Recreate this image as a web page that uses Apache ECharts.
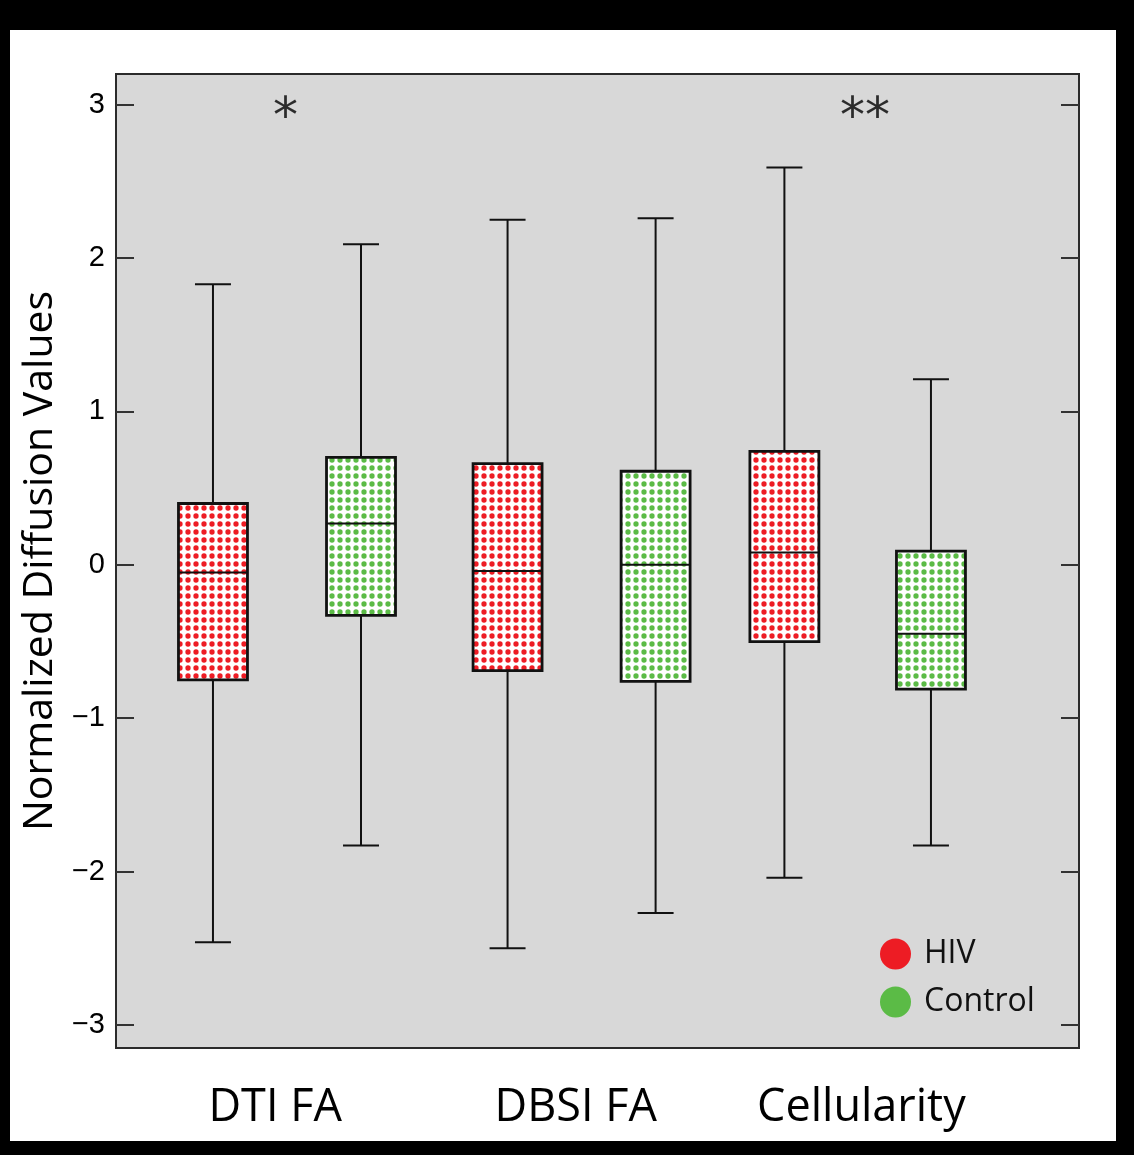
<!DOCTYPE html>
<html><head><meta charset="utf-8">
<script src="https://cdn.jsdelivr.net/npm/echarts@6/dist/echarts.min.js"></script>
<style>
html,body{margin:0;padding:0;background:#000;width:1134px;height:1155px;overflow:hidden}
#bg{position:absolute;left:10px;top:30px;width:1106px;height:1111px;background:#fff}
#chart{position:absolute;left:0;top:0;width:1134px;height:1155px}
</style></head><body><div id="bg"></div><div id="chart"></div>
<script>
// ---- data ----
const categories = ['DTI FA', 'DBSI FA', 'Cellularity'];
const categoryLabelX = [1.42, 3.45, 5.38];
const hivX = [1, 2.99, 4.86];
const controlX = [2, 3.99, 5.85];
// [min, Q1, median, Q3, max]
const hivStats = [
  [-2.46, -0.75, -0.05, 0.40, 1.83],
  [-2.50, -0.69, -0.04, 0.66, 2.25],
  [-2.04, -0.50, 0.08, 0.74, 2.59]
];
const controlStats = [
  [-1.83, -0.33, 0.27, 0.70, 2.09],
  [-2.27, -0.76, 0.00, 0.61, 2.26],
  [-1.83, -0.81, -0.45, 0.09, 1.21]
];
const yTicks = [-3, -2, -1, 0, 1, 2, 3];
const annotations = [[1.49, 3, '*'], [5.405, 3, '**']];
const seriesNames = ['HIV', 'Control'];

// ---- styles ----
const HIV_COLOR = '#ed1c24';
const CTRL_COLOR = '#5bbb46';
const BOX_W = 0.466;
const CAP_W = 0.243;

function makePattern(color) {
  const c = document.createElement('canvas');
  c.width = 8; c.height = 8;
  const g = c.getContext('2d');
  g.fillStyle = '#fff'; g.fillRect(0, 0, 8, 8);
  g.fillStyle = color;
  g.beginPath(); g.arc(4, 4, 2.65, 0, Math.PI * 2); g.fill();
  return c;
}

function boxRenderer(pattern) {
  return function (params, api) {
    const x = api.value(0);
    const p = i => api.coord([x, api.value(i)]);
    const cx = p(1)[0];
    const yMin = p(1)[1], yQ1 = p(2)[1], yMed = p(3)[1], yQ3 = p(4)[1], yMax = p(5)[1];
    const bw = api.size([BOX_W, 0])[0];
    const cw = api.size([CAP_W, 0])[0];
    const ls = { stroke: '#111', lineWidth: 2 };
    return {
      type: 'group',
      children: [
        { type: 'line', shape: { x1: cx, y1: yMax, x2: cx, y2: yQ3 }, style: ls },
        { type: 'line', shape: { x1: cx, y1: yQ1, x2: cx, y2: yMin }, style: ls },
        { type: 'line', shape: { x1: cx - cw / 2, y1: yMax, x2: cx + cw / 2, y2: yMax }, style: ls },
        { type: 'line', shape: { x1: cx - cw / 2, y1: yMin, x2: cx + cw / 2, y2: yMin }, style: ls },
        { type: 'rect', shape: { x: cx - bw / 2, y: yQ3, width: bw, height: yQ1 - yQ3 },
          style: { fill: { image: pattern, repeat: 'repeat' }, stroke: '#111', lineWidth: 2.8 } },
        { type: 'line', shape: { x1: cx - bw / 2, y1: yMed, x2: cx + bw / 2, y2: yMed }, style: ls }
      ]
    };
  };
}

const hivData = hivStats.map((s, i) => [hivX[i]].concat(s));
const ctrlData = controlStats.map((s, i) => [controlX[i]].concat(s));

const chart = echarts.init(document.getElementById('chart'), null, { renderer: 'canvas' });
const fmtMinus = v => (v < 0 ? '\u2212' + Math.abs(v) : String(v));

chart.setOption({
  backgroundColor: 'transparent',
  animation: false,
  grid: {
    left: 116, top: 74, right: 55, bottom: 107,
    show: true, backgroundColor: '#d8d8d8', borderColor: '#2b2b2b', borderWidth: 2
  },
  legend: {
    orient: 'vertical', left: 880, top: 938,
    itemWidth: 31, itemHeight: 31, itemGap: 16, icon: 'circle', padding: 0,
    textStyle: { fontFamily: 'Open Sans', fontSize: 32, color: '#111', padding: [0, 0, 0, 8] },
    data: seriesNames
  },
  xAxis: {
    type: 'value', min: 0.345, max: 6.85,
    axisLine: { show: false }, axisTick: { show: false }, splitLine: { show: false },
    axisLabel: {
      customValues: categoryLabelX,
      margin: 38,
      fontFamily: 'Open Sans', fontSize: 45, color: '#000',
      formatter: v => {
        const i = categoryLabelX.findIndex(c => Math.abs(c - v) < 1e-6);
        return i >= 0 ? categories[i] : '';
      }
    }
  },
  yAxis: [{
    type: 'value', min: -3.15, max: 3.2, position: 'left',
    name: 'Normalized Diffusion Values', nameLocation: 'middle', nameGap: 52,
    nameTextStyle: { fontFamily: 'Open Sans', fontSize: 41, color: '#000' },
    axisLine: { show: false }, splitLine: { show: false },
    axisTick: { show: true, inside: true, length: 18, customValues: yTicks, lineStyle: { color: '#333', width: 2 } },
    axisLabel: { customValues: yTicks, margin: 11, fontFamily: 'Liberation Sans', fontSize: 29, color: '#000', formatter: fmtMinus }
  }, {
    type: 'value', min: -3.15, max: 3.2, position: 'right',
    axisLine: { show: false }, splitLine: { show: false },
    axisTick: { show: true, inside: true, length: 18, customValues: yTicks, lineStyle: { color: '#333', width: 2 } },
    axisLabel: { show: false }
  }],
  series: [
    { name: 'HIV', type: 'custom', renderItem: boxRenderer(makePattern(HIV_COLOR)),
      itemStyle: { color: HIV_COLOR }, encode: { x: 0, y: [1, 2, 3, 4, 5] }, data: hivData, z: 3 },
    { name: 'Control', type: 'custom', renderItem: boxRenderer(makePattern(CTRL_COLOR)),
      itemStyle: { color: CTRL_COLOR }, encode: { x: 0, y: [1, 2, 3, 4, 5] }, data: ctrlData, z: 3 },
    { name: 'sig', type: 'scatter', symbolSize: 0, data: annotations, silent: true,
      label: { show: true, position: 'inside', formatter: p => p.value[2], fontFamily: 'DejaVu Sans',
        fontSize: 50, color: '#000', offset: [0, 14] }, z: 4 }
  ]
});
</script></body></html>
